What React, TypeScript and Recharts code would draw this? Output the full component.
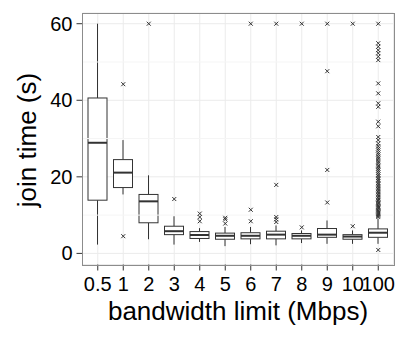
import React from 'react';
import {
  ComposedChart,
  Bar,
  Scatter,
  XAxis,
  YAxis,
  CartesianGrid,
  ReferenceLine,
  Label,
} from 'recharts';

// bandwidth limits (Mbps)
const categories = ['0.5', '1', '2', '3', '4', '5', '6', '7', '8', '9', '10', '100'];

// box statistics of join time (s)
const lowWhisker = [2.3, 15.4, 3.7, 2.3, 3.0, 1.9, 2.4, 2.1, 2.7, 2.5, 2.5, 2.5];
const q1 = [13.9, 17.2, 8.0, 4.9, 3.9, 3.7, 3.8, 3.8, 3.8, 4.2, 3.7, 4.2];
const median = [28.9, 21.1, 13.6, 5.8, 4.8, 4.6, 4.6, 4.9, 4.6, 4.9, 4.4, 5.4];
const q3 = [40.6, 24.5, 15.4, 7.1, 5.7, 5.3, 5.4, 5.8, 5.2, 6.5, 4.9, 6.4];
const highWhisker = [60, 29.6, 20.4, 9.7, 6.6, 6.9, 6.9, 7.3, 6.0, 8.6, 6.0, 9.1];

// outliers per category
const outliers: number[][] = [
  [],
  [44.2, 4.5],
  [60],
  [14.2],
  [10.4, 9.5, 8.4],
  [9.3, 8.9, 7.8],
  [60, 11.4, 8.4],
  [60, 17.9, 9.5, 8.9, 8.2],
  [60, 6.8],
  [60, 47.6, 21.8, 13.3],
  [60, 7.1],
  [
    60, 54.9, 54.0, 53.1, 52.3, 51.4, 50.5, 44.4, 41.8, 39.2, 38.3, 34.4, 33.2,
    30.4, 29.6, 28.7, 28.0, 27.4, 26.9, 26.3, 25.8, 25.2, 24.7, 24.1, 23.6, 23.0,
    22.6, 22.1, 21.6, 21.1, 20.6, 20.2, 19.7, 19.3, 18.9, 18.4, 18.0, 17.6, 17.2,
    16.8, 16.4, 16.0, 15.6, 15.2, 14.8, 14.4, 14.0, 13.7, 13.3, 13.0, 12.6, 12.3,
    12.0, 11.7, 11.3, 11.0, 10.7, 10.4, 10.1, 9.8, 9.5, 0.9,
  ],
];

const yTicks = [0, 20, 40, 60];
const minorTicks = [10, 30, 50];

const boxData = categories.map((bw, i) => ({
  bw,
  range: [lowWhisker[i], highWhisker[i]],
  q1: q1[i],
  median: median[i],
  q3: q3[i],
}));

const outlierData = categories.flatMap((bw, i) => outliers[i].map((v) => ({ bw, v })));

const INK = '#333333';

const BoxShape = (props: any) => {
  const { x, y, width, height, payload } = props;
  const [lo, hi] = payload.range;
  const top = Math.min(y, y + height);
  const bottom = Math.max(y, y + height);
  const px = (v: number) => bottom - ((bottom - top) * (v - lo)) / (hi - lo);
  const cx = x + width / 2;
  const yq1 = px(payload.q1);
  const yq3 = px(payload.q3);
  const ymed = px(payload.median);
  return (
    <g>
      <line x1={cx} x2={cx} y1={top} y2={yq3} stroke={INK} strokeWidth={1} />
      <line x1={cx} x2={cx} y1={yq1} y2={bottom} stroke={INK} strokeWidth={1} />
      <rect x={x} y={yq3} width={width} height={yq1 - yq3} fill="#fff" stroke={INK} strokeWidth={1} />
      <line x1={x} x2={x + width} y1={ymed} y2={ymed} stroke={INK} strokeWidth={2} />
    </g>
  );
};

const Cross = (props: any) => {
  const { cx, cy } = props;
  const s = 2;
  return (
    <g stroke={INK} strokeWidth={1}>
      <line x1={cx - s} y1={cy - s} x2={cx + s} y2={cy + s} />
      <line x1={cx - s} y1={cy + s} x2={cx + s} y2={cy - s} />
    </g>
  );
};

const FONT = 'Liberation Sans, Arial, Helvetica, sans-serif';

export default function App() {
  return (
    <div style={{ position: 'absolute', left: 0, top: 0, width: 407, height: 339, background: '#fff' }}>
      <ComposedChart
        width={407}
        height={339}
        data={boxData}
        margin={{ top: 13, right: 13.5, bottom: 0, left: 0 }}
        style={{ fontFamily: FONT }}
      >
        <CartesianGrid stroke="#ebebeb" strokeWidth={1} />
        {minorTicks.map((t) => (
          <ReferenceLine key={t} y={t} stroke="#f5f5f5" strokeWidth={1} />
        ))}
        <XAxis
          dataKey="bw"
          type="category"
          allowDuplicatedCategory={false}
          height={74.5}
          padding={{ left: 2.5, right: 2.5 }}
          axisLine={false}
          tickLine={{ stroke: INK }}
          tickSize={6}
          tickMargin={6}
          interval={0}
          tick={{ fill: '#000', fontSize: 20, fontFamily: FONT }}
        >
          <Label
            value="bandwidth limit (Mbps)"
            position="insideBottom"
            offset={19}
            style={{ fontSize: 26, fill: '#000', fontFamily: FONT }}
          />
        </XAxis>
        <YAxis
          type="number"
          domain={[-2.9, 62.8]}
          ticks={yTicks}
          width={82.5}
          axisLine={false}
          tickLine={{ stroke: INK }}
          tickSize={6}
          tickMargin={4}
          tick={{ fill: '#000', fontSize: 20, fontFamily: FONT }}
        >
          <Label
            content={() => (
              <text
                x={36}
                y={140}
                transform="rotate(-90 36 140)"
                textAnchor="middle"
                fontSize={26}
                fill="#000"
                fontFamily={FONT}
              >
                join time (s)
              </text>
            )}
          />
        </YAxis>
        <Bar dataKey="range" barSize={19} shape={BoxShape} isAnimationActive={false} />
        <Scatter data={outlierData} dataKey="v" shape={Cross} isAnimationActive={false} />
      </ComposedChart>
      <div
        style={{
          position: 'absolute',
          left: 82,
          top: 13,
          width: 311,
          height: 251,
          border: '1px solid #8c8c8c',
          pointerEvents: 'none',
        }}
      />
    </div>
  );
}
